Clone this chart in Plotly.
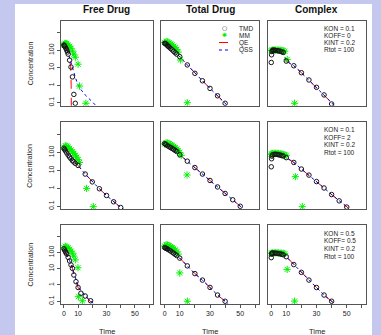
import plotly.graph_objects as go

W, H = 381, 335

# ---------------- data (concentrations) ----------------
col_titles = ["Free Drug", "Total Drug", "Complex"]
param_text = [
    ["KON = 0.1", "KOFF= 0", "KINT = 0.2", "Rtot = 100"],
    ["KON = 0.1", "KOFF= 2", "KINT = 0.2", "Rtot = 100"],
    ["KON = 0.5", "KOFF= 0.5", "KINT = 0.2", "Rtot = 100"],
]
legend_names = ["TMD", "MM", "QE", "QSS"]
x_tickvals = [0, 10, 20, 30, 40, 50, 60]
x_ticktext = ["0", "10", "", "30", "", "50", ""]
y_tickvals = [0.1, 1, 10, 100, 1000]
y_ticktext = ["0.1", "1", "10", "100", ""]

# Row 1: KON=0.1, KOFF=0
free1_tmd_t = [0, 0.25, 0.5, 1, 1.5, 2, 2.5, 3, 4, 5, 6, 7, 8]
free1_tmd_c = [200, 185, 170, 150, 125, 100, 80, 60, 27, 11, 3, 0.3, 0.093]
free1_mm_t = [0, 0.5, 1, 1.5, 2, 3, 4, 5, 6, 7, 8, 10, 11, 15.5]
free1_mm_c = [200, 230, 250, 240, 230, 200, 170, 130, 90, 60, 40, 16, 0.9, 0.093]
free1_qe_t = [0, 1, 2, 3, 4, 4.8, 5.1, 5.2, 5.25]
free1_qe_c = [200, 150, 100, 60, 30, 12, 1, 0.1, 0.05]
free1_qss_t = [0, 1, 2, 3, 4, 5, 6, 7, 8, 10, 12, 15, 20, 23]
free1_qss_c = [200, 160, 112, 71, 40, 21, 11, 5.5, 2.9, 1.0, 0.56, 0.28, 0.112, 0.063]

tot1_tmd_t = [0, 0.5, 1, 1.5, 2, 2.5, 3, 4, 5, 6, 7, 8, 10, 15, 20, 25, 30, 35, 40]
tot1_tmd_c = [251, 240, 224, 200, 182, 166, 151, 126, 105, 87, 72, 60, 43, 14.5, 4.8, 1.8, 0.66, 0.25, 0.093]
tot1_mm_t = [0, 1, 2, 3, 4, 5, 6, 7, 8, 9, 10.4, 15]
tot1_mm_c = [282, 316, 302, 263, 229, 200, 166, 141, 112, 79, 28, 0.1]
tot1_qe_t = [0, 5, 10, 15, 20, 25, 30, 35, 40, 42]
tot1_qe_c = [251, 105, 43, 14.5, 4.8, 1.8, 0.66, 0.25, 0.093, 0.063]
tot1_qss_t = [0, 5, 10, 15, 20, 25, 30, 35, 40, 42]
tot1_qss_c = [251, 105, 43, 14.5, 4.8, 1.8, 0.66, 0.25, 0.093, 0.063]

cpx1_tmd_t = [0.1, 0.3, 0.5, 1, 1.5, 2, 2.5, 3, 4, 5, 6, 7, 8, 10, 15, 20, 25, 30, 35, 40]
cpx1_tmd_c = [20, 55, 85, 100, 100, 100, 98, 97, 95, 92, 88, 82, 75, 24, 13, 5.2, 2.0, 0.76, 0.28, 0.085]
cpx1_mm_t = [0, 0.5, 1, 2, 3, 4, 5, 6, 7, 8, 9, 10.6, 15.5]
cpx1_mm_c = [95, 100, 102, 104, 104, 103, 102, 100, 98, 94, 88, 30, 0.093]
cpx1_qe_t = [0, 1, 3, 5, 7, 8, 10, 15, 20, 25, 30, 35, 40, 42]
cpx1_qe_c = [100, 100, 98, 95, 88, 75, 24, 13, 5.2, 2.0, 0.76, 0.28, 0.1, 0.063]
cpx1_qss_t = [0, 1, 3, 5, 7, 8, 10, 15, 20, 25, 30, 35, 40, 42]
cpx1_qss_c = [100, 100, 98, 95, 88, 75, 24, 13, 5.2, 2.0, 0.76, 0.28, 0.1, 0.063]

# Row 2: KON=0.1, KOFF=2
free2_tmd_t = [0, 0.5, 1, 2, 3, 4, 5, 6, 7, 8, 10, 15, 20, 25, 30, 35, 40]
free2_tmd_c = [174, 150, 126, 95, 72, 56, 45, 35, 30, 25, 19, 6.3, 2.3, 0.95, 0.40, 0.178, 0.085]
free2_mm_t = [0, 1, 2, 3, 4, 5, 6, 7, 8, 9, 10, 11, 16, 20.7]
free2_mm_c = [200, 240, 230, 200, 170, 140, 110, 90, 70, 55, 40, 28, 1.0, 0.095]
free2_qe_t = [0, 2, 4, 6, 8, 10, 15, 20, 25, 30, 35, 40, 42]
free2_qe_c = [174, 95, 56, 35, 25, 19, 6.3, 2.3, 0.95, 0.40, 0.178, 0.085, 0.07]
free2_qss_t = [0, 2, 4, 6, 8, 10, 15, 20, 25, 30, 35, 40, 42]
free2_qss_c = [174, 95, 56, 35, 25, 19, 6.3, 2.3, 0.95, 0.40, 0.178, 0.085, 0.07]

tot2_tmd_t = [0, 0.5, 1, 2, 3, 4, 5, 6, 7, 8, 10, 15, 20, 25, 30, 35, 40, 45, 50]
tot2_tmd_c = [316, 290, 270, 240, 210, 190, 170, 150, 130, 115, 75, 33, 14.5, 6.3, 2.75, 1.2, 0.52, 0.23, 0.1]
tot2_mm_t = [0, 1, 2, 3, 4, 5, 6, 7, 8, 9, 10, 11, 14.8]
tot2_mm_c = [300, 350, 340, 310, 280, 250, 220, 190, 160, 130, 100, 70, 5.6]
tot2_qe_t = [0, 5, 10, 15, 20, 25, 30, 35, 40, 45, 50, 51]
tot2_qe_c = [316, 170, 75, 33, 14.5, 6.3, 2.75, 1.2, 0.52, 0.23, 0.1, 0.085]
tot2_qss_t = [0, 5, 10, 15, 20, 25, 30, 35, 40, 45, 50, 51]
tot2_qss_c = [316, 170, 75, 33, 14.5, 6.3, 2.75, 1.2, 0.52, 0.23, 0.1, 0.085]

cpx2_tmd_t = [0.1, 0.3, 0.5, 1, 2, 3, 4, 5, 6, 7, 8, 10, 15, 20, 25, 30, 35, 40, 45, 50]
cpx2_tmd_c = [16, 45, 63, 75, 80, 80, 78, 75, 72, 68, 64, 52, 28, 12, 5.5, 2.4, 1.05, 0.45, 0.2, 0.09]
cpx2_mm_t = [0, 0.5, 1, 2, 3, 4, 5, 6, 7, 8, 9, 10, 16, 20.6]
cpx2_mm_c = [80, 85, 90, 92, 92, 90, 88, 85, 82, 78, 74, 70, 4.5, 0.095]
cpx2_qe_t = [0, 1, 3, 5, 8, 10, 15, 20, 25, 30, 35, 40, 45, 50, 51]
cpx2_qe_c = [75, 78, 80, 75, 64, 52, 28, 12, 5.5, 2.4, 1.05, 0.45, 0.2, 0.09, 0.08]
cpx2_qss_t = [0, 1, 3, 5, 8, 10, 15, 20, 25, 30, 35, 40, 45, 50, 51]
cpx2_qss_c = [75, 78, 80, 75, 64, 52, 28, 12, 5.5, 2.4, 1.05, 0.45, 0.2, 0.09, 0.08]

# Row 3: KON=0.5, KOFF=0.5
free3_tmd_t = [0, 0.5, 1, 1.5, 2, 3, 4, 5, 6, 7, 8.5, 10, 12, 15, 18.8]
free3_tmd_c = [170, 140, 115, 95, 80, 50, 30, 17, 10.5, 4.1, 1.6, 0.7, 0.31, 0.21, 0.107]
free3_mm_t = [0, 1, 2, 3, 4, 5, 6, 7, 8, 9.9, 10.2, 13]
free3_mm_c = [200, 240, 220, 190, 160, 120, 90, 60, 35, 11.5, 0.19, 0.107]
free3_qe_t = [0, 1, 2, 3, 4, 5, 6, 7, 8.5, 10, 12, 15, 19]
free3_qe_c = [170, 115, 80, 50, 30, 17, 10.5, 4.1, 1.6, 0.7, 0.4, 0.2, 0.09]
free3_qss_t = [0, 1, 2, 3, 4, 5, 6, 7, 8.5, 10, 12, 16, 21]
free3_qss_c = [170, 115, 80, 52, 32, 19, 12, 5.5, 2.2, 0.9, 0.45, 0.18, 0.07]

tot3_tmd_t = [0, 0.5, 1, 1.5, 2, 3, 4, 5, 6, 7, 8, 10, 15, 20, 25, 30, 35, 40]
tot3_tmd_c = [200, 190, 180, 170, 160, 140, 122, 105, 90, 76, 65, 45, 15, 5, 2.0, 0.71, 0.24, 0.1]
tot3_mm_t = [0, 1, 2, 3, 4, 5, 6, 7, 8, 9, 10, 15]
tot3_mm_c = [250, 300, 290, 260, 230, 200, 170, 140, 110, 80, 5.5, 0.1]
tot3_qe_t = [0, 5, 10, 15, 20, 25, 30, 35, 40, 42]
tot3_qe_c = [200, 105, 45, 15, 5, 2.0, 0.71, 0.24, 0.1, 0.07]
tot3_qss_t = [0, 5, 10, 15, 20, 25, 30, 35, 40, 42]
tot3_qss_c = [200, 105, 45, 15, 5, 2.0, 0.71, 0.24, 0.1, 0.07]

cpx3_tmd_t = [0.1, 0.3, 0.5, 1, 2, 3, 4, 5, 6, 7, 8, 10, 15, 20, 25, 30, 35, 40]
cpx3_tmd_c = [48, 80, 90, 92, 92, 90, 88, 85, 82, 78, 72, 55, 18, 6, 2.0, 0.7, 0.24, 0.1]
cpx3_mm_t = [0, 0.5, 1, 2, 3, 4, 5, 6, 7, 8, 9, 10.6, 15.5]
cpx3_mm_c = [88, 92, 95, 96, 96, 95, 94, 92, 90, 88, 84, 9.1, 0.102]
cpx3_qe_t = [0, 1, 3, 5, 8, 10, 15, 20, 25, 30, 35, 40, 42]
cpx3_qe_c = [90, 92, 90, 85, 72, 55, 18, 6, 2.0, 0.7, 0.24, 0.1, 0.07]
cpx3_qss_t = [0, 1, 3, 5, 8, 10, 15, 20, 25, 30, 35, 40, 42]
cpx3_qss_c = [90, 92, 90, 85, 72, 55, 18, 6, 2.0, 0.7, 0.24, 0.1, 0.07]

panels = [
    (free1_tmd_t, free1_tmd_c, free1_mm_t, free1_mm_c, free1_qe_t, free1_qe_c, free1_qss_t, free1_qss_c),
    (tot1_tmd_t, tot1_tmd_c, tot1_mm_t, tot1_mm_c, tot1_qe_t, tot1_qe_c, tot1_qss_t, tot1_qss_c),
    (cpx1_tmd_t, cpx1_tmd_c, cpx1_mm_t, cpx1_mm_c, cpx1_qe_t, cpx1_qe_c, cpx1_qss_t, cpx1_qss_c),
    (free2_tmd_t, free2_tmd_c, free2_mm_t, free2_mm_c, free2_qe_t, free2_qe_c, free2_qss_t, free2_qss_c),
    (tot2_tmd_t, tot2_tmd_c, tot2_mm_t, tot2_mm_c, tot2_qe_t, tot2_qe_c, tot2_qss_t, tot2_qss_c),
    (cpx2_tmd_t, cpx2_tmd_c, cpx2_mm_t, cpx2_mm_c, cpx2_qe_t, cpx2_qe_c, cpx2_qss_t, cpx2_qss_c),
    (free3_tmd_t, free3_tmd_c, free3_mm_t, free3_mm_c, free3_qe_t, free3_qe_c, free3_qss_t, free3_qss_c),
    (tot3_tmd_t, tot3_tmd_c, tot3_mm_t, tot3_mm_c, tot3_qe_t, tot3_qe_c, tot3_qss_t, tot3_qss_c),
    (cpx3_tmd_t, cpx3_tmd_c, cpx3_mm_t, cpx3_mm_c, cpx3_qe_t, cpx3_qe_c, cpx3_qss_t, cpx3_qss_c),
]

# ---------------- layout geometry (pixels) ----------------
col_px = [(60.5, 152.5), (161.0, 259.0), (267.5, 365.5)]
row_px = [(20.7, 105.7), (122.3, 209.3), (225.0, 304.0)]
FONT = "Liberation Sans, Arial, Helvetica, sans-serif"
BOX = "#555555"
TXT = "#222222"
TMD_COLOR = "#151515"
MM_COLOR = "#00F000"
QE_COLOR = "#FF0000"
QSS_COLOR = "#0000FF"


def xd(a, b):
    return [a / W, b / W]


def yd(top, bot):
    return [1 - bot / H, 1 - top / H]


fig = go.Figure()
layout = dict(
    width=W, height=H,
    margin=dict(l=0, r=0, t=0, b=0),
    paper_bgcolor="#C4C8EE",
    plot_bgcolor="white",
    showlegend=False,
    font=dict(family=FONT, size=7, color=TXT),
)

for i, p in enumerate(panels):
    r, c = divmod(i, 3)
    n = i + 1
    xa = "x" if n == 1 else f"x{n}"
    ya = "y" if n == 1 else f"y{n}"
    tmd_t, tmd_c, mm_t, mm_c, qe_t, qe_c, qss_t, qss_c = p
    fig.add_trace(go.Scatter(x=qe_t, y=qe_c, mode="lines", xaxis=xa, yaxis=ya,
                             line=dict(color=QE_COLOR, width=1, dash="dash"), name="QE"))
    fig.add_trace(go.Scatter(x=qss_t, y=qss_c, mode="lines", xaxis=xa, yaxis=ya,
                             line=dict(color=QSS_COLOR, width=1, dash="dot"), name="QSS"))
    fig.add_trace(go.Scatter(x=mm_t, y=mm_c, mode="markers", xaxis=xa, yaxis=ya,
                             marker=dict(symbol="asterisk-open", size=6, color=MM_COLOR,
                                         line=dict(color=MM_COLOR, width=1)), name="MM"))
    fig.add_trace(go.Scatter(x=tmd_t, y=tmd_c, mode="markers", xaxis=xa, yaxis=ya,
                             marker=dict(symbol="circle-open", size=4.5, color=TMD_COLOR,
                                         line=dict(color=TMD_COLOR, width=1)), name="TMD"))

    xkey = "xaxis" if n == 1 else f"xaxis{n}"
    ykey = "yaxis" if n == 1 else f"yaxis{n}"
    layout[xkey] = dict(
        domain=xd(*col_px[c]), anchor=ya, range=[-2.4, 62.4],
        showline=True, mirror=True, linecolor=BOX, linewidth=1,
        showgrid=False, zeroline=False, fixedrange=True,
        ticks="outside" if r == 2 else "", ticklen=3, tickcolor=BOX,
        tickvals=x_tickvals, ticktext=x_ticktext,
        showticklabels=(r == 2), tickfont=dict(size=7, color=TXT),
    )
    layout[ykey] = dict(
        domain=yd(*row_px[r]), anchor=xa, type="log", range=[-1.17, 3.69],
        showline=True, mirror=True, linecolor=BOX, linewidth=1,
        showgrid=False, zeroline=False, fixedrange=True,
        ticks="outside" if c == 0 else "", ticklen=3, tickcolor=BOX,
        tickvals=y_tickvals, ticktext=y_ticktext, tickangle=-90,
        showticklabels=(c == 0), tickfont=dict(size=7, color=TXT),
    )

annotations = []
shapes = [dict(type="rect", xref="paper", yref="paper", x0=15 / W, x1=372 / W,
               y0=0, y1=1 - 4 / H, fillcolor="white", line=dict(width=0), layer="below")]


def ann(text, x, y, size, anchor="center", **kw):
    d = dict(text=text, x=x / W, y=1 - y / H, xref="paper", yref="paper", showarrow=False,
             font=dict(size=size, color=kw.pop("color", TXT), family=kw.pop("family", FONT)),
             xanchor=anchor, yanchor="middle")
    d.update(kw)
    annotations.append(d)


for c, t in enumerate(col_titles):
    ann(f"<b>{t}</b>", (col_px[c][0] + col_px[c][1]) / 2, 10, 10, color="#111111")
for r in range(3):
    ann("Concentration", 30, (row_px[r][0] + row_px[r][1]) / 2, 7, textangle=-90)
for c in range(3):
    ann("Time", (col_px[c][0] + col_px[c][1]) / 2, 331.5, 7.5)

param_y = [[28.5, 35.5, 42.5, 50], [129, 137, 145, 153], [233, 240.5, 248, 256]]
for r in range(3):
    for k, txt in enumerate(param_text[r]):
        ann(txt, 322, param_y[r][k], 6.5, anchor="left")

leg_y = [28.5, 35.5, 42.5, 50]
for k, name in enumerate(legend_names):
    ann(name, 237, leg_y[k], 6.5, anchor="left")
ann("○", 225, leg_y[0] - 1, 6, color=TMD_COLOR, family="DejaVu Sans")
ann("✱", 225, leg_y[1] - 1, 6, color=MM_COLOR, family="DejaVu Sans")
shapes.append(dict(type="line", xref="paper", yref="paper", x0=219 / W, x1=231 / W,
                   y0=1 - leg_y[2] / H, y1=1 - leg_y[2] / H, line=dict(color=QE_COLOR, width=1, dash="dash")))
shapes.append(dict(type="line", xref="paper", yref="paper", x0=219 / W, x1=231 / W,
                   y0=1 - leg_y[3] / H, y1=1 - leg_y[3] / H, line=dict(color=QSS_COLOR, width=1, dash="dot")))

layout["annotations"] = annotations
layout["shapes"] = shapes
fig.update_layout(**layout)

page_fix = (
    "(function(){var s=document.createElement('style');"
    "s.textContent='html,body{margin:0!important;padding:0!important;overflow:hidden!important;"
    "height:335px!important;width:381px!important;scrollbar-width:none!important;}"
    "body>div{overflow:hidden;height:335px;width:381px;}"
    ".plotly-graph-div{overflow:hidden!important;}"
    ".svg-container{display:block!important;}"
    "::-webkit-scrollbar{display:none!important;width:0!important;height:0!important;}';"
    "document.head.appendChild(s);window.scrollTo(0,0);})();"
)
fig.write_html("out.html",
               config={"displayModeBar": False, "staticPlot": True},
               post_script=page_fix)
